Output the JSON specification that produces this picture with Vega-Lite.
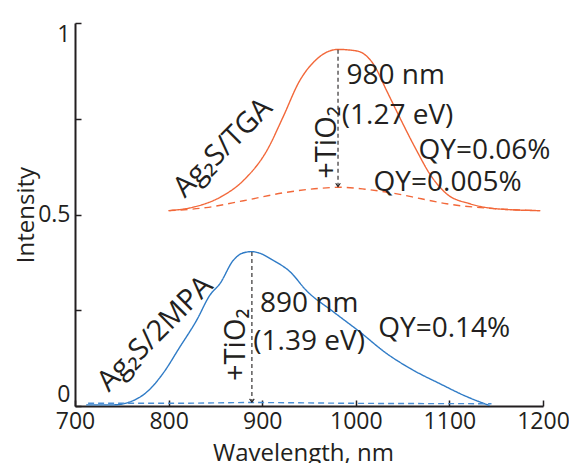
{
  "$schema": "https://vega.github.io/schema/vega-lite/v6.json",
  "width": 468,
  "height": 383,
  "autosize": "none",
  "padding": {"left": 75, "top": 23, "right": 26, "bottom": 57},
  "background": "white",
  "config": {"view": {"stroke": null}, "font": "Open Sans"},
  "datasets": {
    "curves": [
      {"s": "tga", "x": 800, "y": 0.510}, {"s": "tga", "x": 826, "y": 0.519}, {"s": "tga", "x": 855, "y": 0.545},
      {"s": "tga", "x": 880, "y": 0.589}, {"s": "tga", "x": 905, "y": 0.667}, {"s": "tga", "x": 922, "y": 0.753},
      {"s": "tga", "x": 940, "y": 0.849}, {"s": "tga", "x": 958, "y": 0.905}, {"s": "tga", "x": 981, "y": 0.931},
      {"s": "tga", "x": 1001, "y": 0.927}, {"s": "tga", "x": 1019, "y": 0.892}, {"s": "tga", "x": 1033, "y": 0.823},
      {"s": "tga", "x": 1047, "y": 0.753}, {"s": "tga", "x": 1065, "y": 0.667}, {"s": "tga", "x": 1079, "y": 0.606},
      {"s": "tga", "x": 1097, "y": 0.554}, {"s": "tga", "x": 1122, "y": 0.528}, {"s": "tga", "x": 1150, "y": 0.515},
      {"s": "tga", "x": 1197, "y": 0.510},
      {"s": "tga_t", "x": 800, "y": 0.510}, {"s": "tga_t", "x": 840, "y": 0.518}, {"s": "tga_t", "x": 880, "y": 0.536},
      {"s": "tga_t", "x": 926, "y": 0.558}, {"s": "tga_t", "x": 960, "y": 0.568}, {"s": "tga_t", "x": 983, "y": 0.571},
      {"s": "tga_t", "x": 1010, "y": 0.566}, {"s": "tga_t", "x": 1044, "y": 0.554}, {"s": "tga_t", "x": 1070, "y": 0.541},
      {"s": "tga_t", "x": 1097, "y": 0.528}, {"s": "tga_t", "x": 1150, "y": 0.515}, {"s": "tga_t", "x": 1197, "y": 0.510},
      {"s": "mpa", "x": 712, "y": 0.003}, {"s": "mpa", "x": 741, "y": 0.003}, {"s": "mpa", "x": 759, "y": 0.011},
      {"s": "mpa", "x": 777, "y": 0.037}, {"s": "mpa", "x": 794, "y": 0.085}, {"s": "mpa", "x": 812, "y": 0.154},
      {"s": "mpa", "x": 830, "y": 0.224}, {"s": "mpa", "x": 844, "y": 0.289}, {"s": "mpa", "x": 855, "y": 0.320},
      {"s": "mpa", "x": 869, "y": 0.380}, {"s": "mpa", "x": 880, "y": 0.400}, {"s": "mpa", "x": 889, "y": 0.403},
      {"s": "mpa", "x": 896, "y": 0.400}, {"s": "mpa", "x": 912, "y": 0.380}, {"s": "mpa", "x": 930, "y": 0.350},
      {"s": "mpa", "x": 947, "y": 0.302}, {"s": "mpa", "x": 976, "y": 0.246}, {"s": "mpa", "x": 1004, "y": 0.194},
      {"s": "mpa", "x": 1033, "y": 0.137}, {"s": "mpa", "x": 1061, "y": 0.094}, {"s": "mpa", "x": 1090, "y": 0.058},
      {"s": "mpa", "x": 1118, "y": 0.025}, {"s": "mpa", "x": 1143, "y": 0.001},
      {"s": "mpa_t", "x": 714, "y": 0.007}, {"s": "mpa_t", "x": 800, "y": 0.007}, {"s": "mpa_t", "x": 889, "y": 0.009},
      {"s": "mpa_t", "x": 1000, "y": 0.007}, {"s": "mpa_t", "x": 1145, "y": 0.006}
    ],
    "arrows": [
      {"x": 981, "y": 0.930, "y2": 0.573},
      {"x": 889, "y": 0.402, "y2": 0.010}
    ],
    "htext": [
      {"t": "980 nm", "x": 990, "y": 0.840},
      {"t": "(1.27 eV)", "x": 985, "y": 0.736},
      {"t": "QY=0.06%", "x": 1067, "y": 0.645},
      {"t": "QY=0.005%", "x": 1019, "y": 0.5625},
      {"t": "890 nm", "x": 897.6, "y": 0.2456},
      {"t": "(1.39 eV)", "x": 890.5, "y": 0.146},
      {"t": "QY=0.14%", "x": 1024, "y": 0.180}
    ],
    "dtext": [
      {"t": "Ag₂S/TGA", "x": 858, "y": 0.674},
      {"t": "Ag₂S/2MPA", "x": 785.5, "y": 0.189}
    ],
    "vtext": [
      {"t": "+TiO₂", "x": 969, "y": 0.688},
      {"t": "+TiO₂", "x": 872, "y": 0.160}
    ]
  },
  "layer": [
    {
      "data": {"name": "curves"},
      "mark": {"type": "line", "interpolate": "monotone"},
      "encoding": {
        "x": {
          "field": "x", "type": "quantitative",
          "scale": {"domain": [700, 1200], "nice": false, "zero": false},
          "axis": {
            "values": [700, 800, 900, 1000, 1100, 1200], "format": "d", "title": "Wavelength, nm",
            "grid": false, "tickSize": -6, "tickWidth": 1.5, "tickColor": "#231f20", "labelFlush": false,
            "domainColor": "#231f20", "domainWidth": 2,
            "labelFont": "Open Sans", "labelFontSize": 23, "labelColor": "#231f20", "labelPadding": 10,
            "titleFont": "Open Sans", "titleFontSize": 24, "titleFontWeight": "normal", "titleColor": "#231f20",
            "titleX": 228, "titleAlign": "center", "titleY": 54, "titleBaseline": "alphabetic"
          }
        },
        "y": {
          "field": "y", "type": "quantitative",
          "scale": {"domain": [0, 1], "nice": false},
          "axis": {
            "values": [0, 0.25, 0.5, 0.75, 1], "format": ".2~f",
            "labelExpr": "datum.value == 0.25 || datum.value == 0.75 ? '' : datum.label",
            "title": "Intensity", "grid": false, "tickSize": -6, "tickWidth": 1.5, "tickColor": "#231f20",
            "domainColor": "#231f20", "domainWidth": 2, "labelFlush": true,
            "labelFont": "Open Sans", "labelFontSize": 23, "labelColor": "#231f20", "labelPadding": 11,
            "titleFont": "Open Sans", "titleFontSize": 24, "titleFontWeight": "normal", "titleColor": "#231f20",
            "titleX": -42, "titleY": 191.5, "titleAngle": -90, "titleAlign": "center", "titleBaseline": "alphabetic"
          }
        },
        "color": {
          "field": "s", "type": "nominal",
          "scale": {"domain": ["tga", "tga_t", "mpa", "mpa_t"], "range": ["#f2683a", "#f2683a", "#2f7bc6", "#4a8fd6"]},
          "legend": null
        },
        "strokeDash": {
          "field": "s", "type": "nominal",
          "scale": {"domain": ["tga", "tga_t", "mpa", "mpa_t"], "range": [[1, 0], [7, 5], [1, 0], [6, 4]]},
          "legend": null
        },
        "strokeWidth": {
          "field": "s", "type": "nominal",
          "scale": {"domain": ["tga", "tga_t", "mpa", "mpa_t"], "range": [1.4, 1.4, 1.4, 2]},
          "legend": null
        }
      }
    },
    {
      "data": {"name": "arrows"},
      "mark": {"type": "rule", "color": "#231f20", "strokeWidth": 1.1, "strokeDash": [4, 3]},
      "encoding": {
        "x": {"field": "x", "type": "quantitative"},
        "y": {"field": "y", "type": "quantitative"},
        "y2": {"field": "y2"}
      }
    },
    {
      "data": {"name": "arrows"},
      "mark": {"type": "point", "shape": "M-1,-1.4L0,0L1,-1.4", "filled": false, "size": 22, "stroke": "#231f20", "strokeWidth": 1.1, "opacity": 1},
      "encoding": {
        "x": {"field": "x", "type": "quantitative"},
        "y": {"field": "y2", "type": "quantitative"}
      }
    },
    {
      "data": {"name": "htext"},
      "mark": {"type": "text", "align": "left", "baseline": "alphabetic", "fontSize": 28, "font": "Open Sans", "color": "#231f20"},
      "encoding": {
        "x": {"field": "x", "type": "quantitative"},
        "y": {"field": "y", "type": "quantitative"},
        "text": {"field": "t"}
      }
    },
    {
      "data": {"name": "dtext"},
      "mark": {"type": "text", "align": "center", "baseline": "middle", "angle": -45, "fontSize": 29, "font": "Open Sans", "color": "#231f20"},
      "encoding": {
        "x": {"field": "x", "type": "quantitative"},
        "y": {"field": "y", "type": "quantitative"},
        "text": {"field": "t"}
      }
    },
    {
      "data": {"name": "vtext"},
      "mark": {"type": "text", "align": "center", "baseline": "middle", "angle": -90, "fontSize": 29, "font": "Open Sans", "color": "#231f20"},
      "encoding": {
        "x": {"field": "x", "type": "quantitative"},
        "y": {"field": "y", "type": "quantitative"},
        "text": {"field": "t"}
      }
    }
  ]
}
